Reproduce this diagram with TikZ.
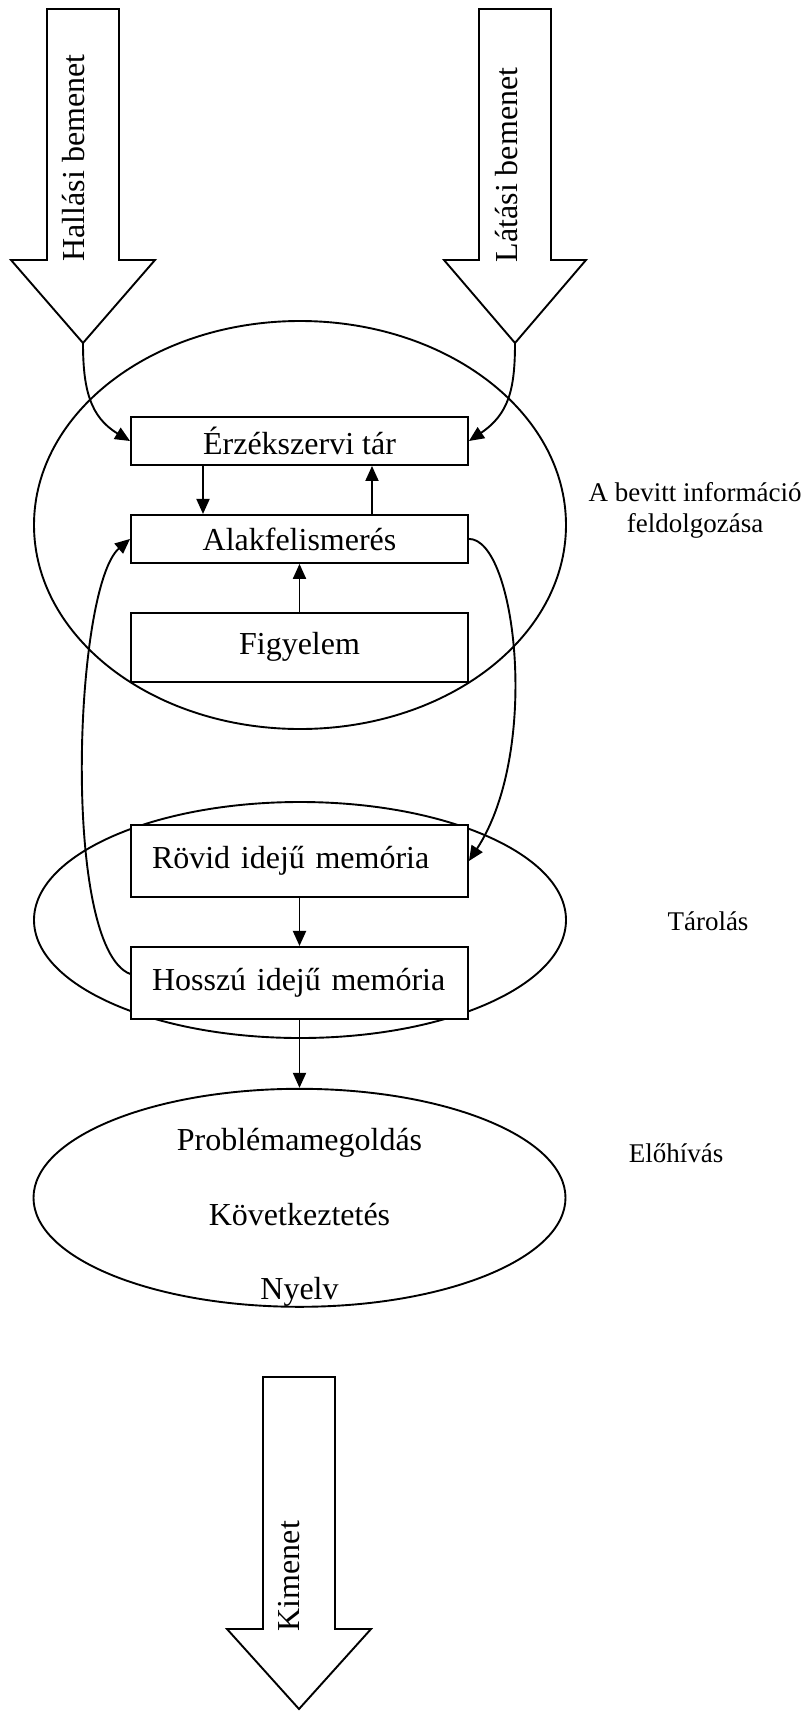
\documentclass[tikz,border=0pt]{standalone}
\usepackage{fontspec}
\setmainfont{Liberation Serif}
\usetikzlibrary{positioning, shapes.geometric, arrows.meta}
\pgfdeclarelayer{ellipselayer}
\pgfsetlayers{ellipselayer,main}

\begin{document}
\begin{tikzpicture}[
    x=1pt, y=-1pt,
    arrow/.style={-{Triangle[length=15pt,width=13pt]}, line width=1.9pt},
    componentbox/.style={
        rectangle,
        minimum width=337pt,
        minimum height=48pt,
        text centered,
        inner sep=0pt,
        draw=black,
        line width=1.9pt,
        fill=white,
        font=\fontsize{32pt}{38pt}\selectfont
    },
    memorybox/.style={componentbox, text width=295pt, align=left, inner xsep=21pt, minimum height=72pt},
    blockarrow/.style={draw=black, line width=1.9pt, fill=white},
    arrowlabel/.style={rotate=90, inner sep=0pt, font=\fontsize{32pt}{38pt}\selectfont},
    stagelabel/.style={align=center, font=\fontsize{27pt}{31pt}\selectfont},
    zone/.style={ellipse, draw=black, line width=1.9pt, inner sep=0pt, minimum width=532pt}
]
\useasboundingbox (0,0) rectangle (805,1711);

%% INPUT ARROWS %%
\draw [blockarrow] (47,9) -- (119,9) -- (119,260) -- (155,260) -- (83,343) -- (11,260) -- (47,260) -- cycle;
\coordinate (hear_tip) at (83,343);
\node (hear_label) [arrowlabel] at (74,158) {Hallási bemenet};

\draw [blockarrow] (479,9) -- (551,9) -- (551,260) -- (586,260) -- (515,343) -- (444,260) -- (479,260) -- cycle;
\coordinate (sight_tip) at (515,343);
\node (sight_label) [arrowlabel] at (507,165) {Látási bemenet};

%% PROCESSING BOXES %%
\node (sensory) [componentbox] at (299.5,441) {Érzékszervi tár};
\node (pattern) [componentbox, below=48pt of sensory] {Alakfelismerés};
\node (attention) [componentbox, below=48pt of pattern, minimum height=69pt] {Figyelem};

%% MEMORY BOXES %%
\node (shortterm) [memorybox] at (299.5,861) {Rövid idejű memória};
\node (longterm) [memorybox, below=48pt of shortterm] {Hosszú idejű memória};

%% ELLIPSES %%
\begin{pgfonlayer}{ellipselayer}
    \node (input_zone) [zone, minimum height=408pt] at (300,525) {};
    \node (storage_zone) [zone, minimum height=236pt] at (300,920) {};
    \node (retrieval) [zone, minimum height=218pt, below=68pt of longterm] {};
\end{pgfonlayer}

\node (problem) [font=\fontsize{32pt}{38pt}\selectfont, yshift=55pt] at (retrieval.center) {Problémamegoldás};
\node (inference) [font=\fontsize{32pt}{38pt}\selectfont, yshift=-17pt] at (retrieval.center) {Következtetés};
\node (language) [font=\fontsize{32pt}{38pt}\selectfont, yshift=-94pt] at (retrieval.center) {Nyelv};

%% STAGE LABELS %%
\node (stage_input) [stagelabel] at (695,510) {A bevitt információ\\feldolgozása};
\node (stage_storage) [stagelabel] at (708,921) {Tárolás};
\node (stage_recall) [stagelabel] at (676,1153) {Előhívás};

%% OUTPUT ARROW %%
\draw [blockarrow] (263,1377) -- (335,1377) -- (335,1629) -- (371,1629) -- (299,1709) -- (227,1629) -- (263,1629) -- cycle;
\node (out_label) [arrowlabel] at (289,1576) {Kimenet};

%% ARROWS %%
\draw [arrow] (hear_tip) .. controls +(0,46) and +(-40,-24) .. (sensory.west);
\draw [arrow] (sight_tip) .. controls +(0,46) and +(40,-27) .. (sensory.east);
\draw [arrow] ([xshift=-96.5pt]sensory.south) -- ([xshift=-96.5pt]pattern.north);
\draw [arrow] ([xshift=72.5pt]pattern.north) -- ([xshift=72.5pt]sensory.south);
\draw [arrow] (attention.north) -- (pattern.south);
\draw [arrow] (pattern.east) .. controls +(47,0) and +(72,-110) .. (shortterm.east);
\draw [arrow] ([yshift=9pt]longterm.west) .. controls +(-69,-27) and +(-56,48) .. (pattern.west);
\draw [arrow] (shortterm.south) -- (longterm.north);
\draw [arrow] (longterm.south) -- (retrieval.north);

\end{tikzpicture}
\end{document}
